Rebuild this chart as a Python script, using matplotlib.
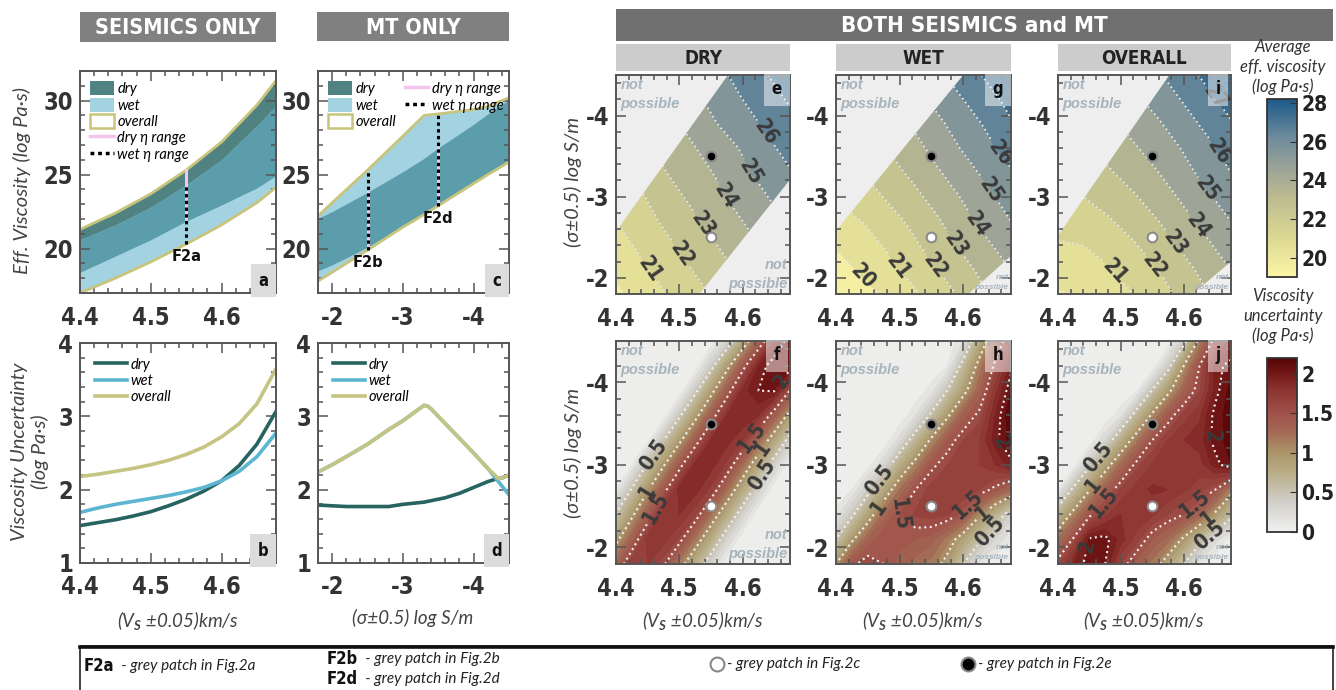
import matplotlib

matplotlib.use("Agg")

import matplotlib.pyplot as plt
import numpy as np
from matplotlib.cm import ScalarMappable
from matplotlib.colors import LinearSegmentedColormap, Normalize
from matplotlib.lines import Line2D
from matplotlib.patches import Patch, Polygon, Rectangle
from matplotlib.ticker import MultipleLocator

W, H = 1336, 690
COND = ["DejaVu Sans"]
ITAL = ["Lato", "DejaVu Sans"]
plt.rcParams["font.family"] = COND
plt.rcParams["font.stretch"] = "condensed"
plt.rcParams["font.weight"] = "bold"
plt.rcParams["axes.unicode_minus"] = False
plt.rcParams["mathtext.fontset"] = "custom"
plt.rcParams["mathtext.it"] = "Lato:italic"
plt.rcParams["mathtext.rm"] = "Lato"
IT = dict(family=ITAL, style="italic", weight="normal", stretch="normal")

# ---- seismics only: viscosity ranges vs Vs (panel a)
vs_a = [4.40, 4.45, 4.50, 4.55, 4.60, 4.65, 4.676]
dry_top_a = [21.3, 22.4, 23.7, 25.3, 27.2, 29.7, 31.3]
dry_bot_a = [18.4, 19.5, 20.6, 21.85, 22.95, 24.1, 24.9]
wet_top_a = [20.6, 21.6, 22.8, 24.3, 26.0, 28.3, 29.6]
wet_bot_a = [17.0, 18.0, 19.1, 20.3, 21.6, 23.1, 24.1]

# ---- MT only: viscosity ranges vs conductivity (panel c)
sig_c = [-1.8, -2.0, -2.5, -3.0, -3.3, -3.5, -4.0, -4.2, -4.5]
wet_top_c = [22.2, 23.1, 25.3, 27.6, 29.0, 29.1, 29.4, 29.6, 30.2]
wet_bot_c = [17.8, 18.4, 19.9, 21.45, 22.3, 22.9, 24.4, 25.0, 25.85]
dry_top_c = [22.05, 22.5, 23.8, 25.2, 26.1, 26.8, 28.4, 29.1, 30.05]
dry_bot_c = [18.5, 18.9, 20.1, 21.5, 22.35, 22.95, 24.4, 25.0, 25.85]

# reference points (grey patches of Fig. 2)
f2a_vs = 4.55
f2b_sig = -2.5
f2d_sig = -3.5
dot_open = (4.55, -2.5)
dot_fill = (4.55, -3.5)

# ---- uncertainty, seismics only (panel b)
vs_b = [4.40, 4.425, 4.45, 4.475, 4.50, 4.525, 4.55, 4.575, 4.60, 4.625, 4.65, 4.676]
unc_dry_b = [1.51, 1.55, 1.59, 1.64, 1.70, 1.78, 1.87, 1.98, 2.12, 2.33, 2.62, 3.05]
unc_wet_b = [1.69, 1.75, 1.80, 1.84, 1.88, 1.92, 1.97, 2.03, 2.12, 2.25, 2.45, 2.76]
unc_all_b = [2.18, 2.21, 2.25, 2.29, 2.34, 2.40, 2.48, 2.58, 2.72, 2.90, 3.17, 3.63]

# ---- uncertainty, MT only (panel d)
sig_d = [-1.8, -2.0, -2.2, -2.5, -2.8, -3.0, -3.2, -3.3, -3.35, -3.4, -3.6, -3.8,
         -4.0, -4.2, -4.3, -4.35, -4.4, -4.5]
unc_all_d = [2.24, 2.34, 2.45, 2.62, 2.82, 2.94, 3.08, 3.15, 3.14, 3.10, 2.90, 2.70,
             2.50, 2.29, 2.20, 2.15, 2.16, 2.20]
unc_wet_d = [2.24, 2.34, 2.45, 2.62, 2.82, 2.94, 3.08, 3.15, 3.14, 3.10, 2.90, 2.70,
             2.50, 2.29, 2.17, 2.11, 2.05, 1.93]
unc_dry_d = [1.79, 1.78, 1.77, 1.77, 1.77, 1.80, 1.82, 1.83, 1.84, 1.85, 1.89, 1.95,
             2.03, 2.11, 2.14, 2.15, 2.16, 2.20]

# ---- joint maps: grids
vs_grid = [4.40, 4.44, 4.48, 4.52, 4.56, 4.60, 4.64, 4.68]
vs_fine = [4.400, 4.425, 4.450, 4.475, 4.500, 4.525, 4.550, 4.575, 4.600, 4.625, 4.650, 4.675]
sig_grid = [-1.8, -2.1, -2.4, -2.7, -3.0, -3.3, -3.6, -3.9, -4.2, -4.5]

# average effective viscosity (rows follow sig_grid, columns vs_grid)
visc_dry = [
    [19.8, 20.4, 21.0, 21.6, 22.2, 22.8, 23.4, 24.1],
    [20.2, 20.8, 21.4, 22.0, 22.6, 23.2, 23.8, 24.5],
    [20.6, 21.2, 21.8, 22.4, 23.0, 23.6, 24.2, 24.8],
    [21.0, 21.6, 22.2, 22.8, 23.4, 24.0, 24.6, 25.2],
    [21.3, 21.9, 22.6, 23.2, 23.8, 24.4, 25.0, 25.6],
    [21.7, 22.3, 23.0, 23.6, 24.1, 24.8, 25.4, 26.0],
    [22.1, 22.7, 23.3, 23.9, 24.5, 25.1, 25.8, 26.4],
    [22.5, 23.1, 23.7, 24.3, 25.0, 25.6, 26.2, 26.8],
    [22.9, 23.5, 24.1, 24.7, 25.4, 26.0, 26.6, 27.2],
    [23.3, 23.9, 24.5, 25.1, 25.7, 26.4, 27.0, 27.6],
]
visc_wet = [
    [19.2, 19.6, 20.2, 20.8, 21.5, 22.2, 23.0, 23.7],
    [19.6, 20.1, 20.7, 21.3, 22.0, 22.7, 23.4, 24.1],
    [20.1, 20.6, 21.1, 21.8, 22.5, 23.2, 23.9, 24.6],
    [20.6, 21.0, 21.6, 22.2, 22.9, 23.7, 24.4, 25.1],
    [21.1, 21.5, 22.1, 22.7, 23.4, 24.1, 24.8, 25.6],
    [21.5, 22.0, 22.6, 23.2, 23.9, 24.6, 25.3, 26.0],
    [22.0, 22.5, 23.0, 23.6, 24.4, 25.1, 25.8, 26.5],
    [22.5, 22.9, 23.5, 24.1, 24.8, 25.5, 26.2, 27.0],
    [22.9, 23.4, 24.0, 24.6, 25.3, 26.0, 26.7, 27.4],
    [23.4, 23.9, 24.4, 25.0, 25.8, 26.5, 27.2, 27.9],
]
visc_all = [
    [19.9, 20.1, 20.5, 21.0, 21.6, 22.3, 23.0, 23.7],
    [20.4, 20.5, 20.9, 21.5, 22.0, 22.7, 23.4, 24.1],
    [20.9, 21.0, 21.4, 21.9, 22.5, 23.2, 23.9, 24.6],
    [21.4, 21.5, 21.9, 22.4, 23.0, 23.7, 24.4, 25.1],
    [21.8, 22.0, 22.4, 22.9, 23.5, 24.2, 24.9, 25.6],
    [22.3, 22.5, 22.9, 23.4, 24.0, 24.7, 25.4, 26.1],
    [22.8, 22.9, 23.3, 23.9, 24.4, 25.1, 25.8, 26.5],
    [23.3, 23.4, 23.8, 24.3, 24.9, 25.6, 26.3, 27.0],
    [23.8, 23.9, 24.3, 24.8, 25.4, 26.1, 26.8, 27.5],
    [24.2, 24.4, 24.8, 25.3, 25.9, 26.6, 27.3, 28.0],
]

# viscosity uncertainty (rows follow sig_grid, columns vs_fine)
unc_dry = [
    [1.30, 1.70, 1.70, 1.54, 1.13, 0.73, 0.32, 0, 0, 0, 0, 0],
    [0.92, 1.33, 1.75, 1.75, 1.58, 1.17, 0.75, 0.33, 0, 0, 0, 0],
    [0.51, 0.94, 1.37, 1.80, 1.80, 1.63, 1.20, 0.77, 0.34, 0, 0, 0],
    [0.09, 0.53, 0.97, 1.41, 1.85, 1.85, 1.67, 1.23, 0.79, 0.35, 0, 0],
    [0, 0.09, 0.53, 0.97, 1.41, 1.85, 1.85, 1.67, 1.23, 0.79, 0.35, 0],
    [0, 0, 0.05, 0.49, 0.93, 1.37, 1.81, 1.85, 1.71, 1.27, 0.83, 0.39],
    [0, 0, 0, 0, 0.45, 0.90, 1.36, 1.81, 1.90, 1.81, 1.36, 0.90],
    [0, 0, 0, 0, 0, 0.42, 0.90, 1.37, 1.85, 2.00, 2.02, 1.49],
    [0, 0, 0, 0, 0, 0, 0.40, 0.90, 1.40, 1.90, 2.10, 2.10],
    [0, 0, 0, 0, 0, 0, 0, 0.30, 0.80, 1.30, 1.80, 2.10],
]
unc_wet = [
    [1.00, 1.45, 1.60, 1.50, 1.35, 1.25, 1.15, 0.90, 0.50, 0.15, 0, 0],
    [0.50, 0.95, 1.30, 1.50, 1.45, 1.40, 1.35, 1.15, 0.85, 0.55, 0.30, 0.10],
    [0.15, 0.45, 0.85, 1.25, 1.50, 1.62, 1.65, 1.62, 1.45, 1.05, 0.70, 0.35],
    [0, 0.10, 0.40, 0.80, 1.20, 1.50, 1.65, 1.70, 1.70, 1.60, 1.45, 1.25],
    [0, 0, 0.05, 0.30, 0.75, 1.10, 1.45, 1.60, 1.65, 1.70, 1.80, 1.95],
    [0, 0, 0, 0, 0.25, 0.65, 1.05, 1.40, 1.60, 1.70, 1.95, 2.15],
    [0, 0, 0, 0, 0, 0.20, 0.55, 0.95, 1.35, 1.55, 1.90, 2.20],
    [0, 0, 0, 0, 0, 0, 0.15, 0.50, 0.90, 1.30, 1.75, 2.10],
    [0, 0, 0, 0, 0, 0, 0, 0.10, 0.60, 1.10, 1.55, 1.95],
    [0, 0, 0, 0, 0, 0, 0, 0, 0.20, 0.75, 1.30, 1.70],
]
unc_all = [
    [1.58, 1.92, 2.05, 2.00, 1.60, 1.35, 1.15, 0.85, 0.50, 0.12, 0, 0],
    [1.20, 1.53, 2.02, 2.05, 1.85, 1.65, 1.40, 1.25, 0.95, 0.60, 0.25, 0.05],
    [0.68, 1.10, 1.45, 1.67, 1.80, 1.80, 1.72, 1.60, 1.50, 1.30, 0.95, 0.60],
    [0.10, 0.57, 0.98, 1.35, 1.62, 1.75, 1.82, 1.80, 1.72, 1.65, 1.50, 1.10],
    [0, 0.02, 0.45, 0.87, 1.25, 1.56, 1.72, 1.80, 1.75, 1.75, 1.95, 2.10],
    [0, 0, 0, 0.30, 0.75, 1.15, 1.50, 1.70, 1.80, 1.85, 2.05, 2.15],
    [0, 0, 0, 0, 0.17, 0.63, 1.05, 1.41, 1.65, 1.78, 2.05, 2.15],
    [0, 0, 0, 0, 0, 0.08, 0.52, 0.93, 1.31, 1.59, 1.95, 2.15],
    [0, 0, 0, 0, 0, 0, 0, 0.40, 1.00, 1.50, 1.95, 2.05],
    [0, 0, 0, 0, 0, 0, 0, 0, 0.40, 1.10, 1.60, 1.85],
]

# combinations that exist (outline of the allowed Vs-conductivity area)
ok_dry_vs = [4.40, 4.40, 4.577, 4.675, 4.675, 4.532]
ok_dry_sig = [-1.8, -2.57, -4.5, -4.5, -3.21, -1.8]
ok_wet_vs = [4.40, 4.40, 4.600, 4.675, 4.675, 4.608]
ok_wet_sig = [-1.8, -2.58, -4.5, -4.5, -2.27, -1.8]
ok_all_vs = [4.40, 4.40, 4.577, 4.675, 4.675, 4.614]
ok_all_sig = [-1.8, -2.52, -4.5, -4.5, -2.2, -1.8]

# colours
DRY_C, WET_C, BOTH_C = "#4f8280", "#a3d3e0", "#5b9dab"
OLIVE, PINK = "#c9c47c", "#f4c4ef"
L_DRY, L_WET, L_ALL = "#276361", "#5db6d1", "#c5c482"
NP_BG, NP_TXT = "#eeeeee", "#a7b4bd"

visc_norm = Normalize(19.0, 28.2)
visc_cmap = LinearSegmentedColormap.from_list(
    "visc", [(0.0, "#fbf6a6"), (0.22, "#dcd893"), (0.44, "#bdbc90"),
             (0.6, "#9ea597"), (0.78, "#6f8c9c"), (1.0, "#1c5a8a")])
unc_norm = Normalize(0.0, 2.2)
unc_cmap = LinearSegmentedColormap.from_list(
    "unc", [(0.0, "#f1f1f1"), (0.18, "#cfcdc6"), (0.34, "#b9ad88"), (0.46, "#ab9468"),
            (0.57, "#a36a55"), (0.68, "#a0524a"), (0.82, "#8b3330"), (0.93, "#6e1414"),
            (1.0, "#560404")])


def px_axes(fig, left, top, right, bottom):
    return fig.add_axes([left / W, 1 - bottom / H, (right - left) / W, (bottom - top) / H])


def style(ax, xmaj, xmin, ymaj, ymin):
    ax.xaxis.set_major_locator(MultipleLocator(xmaj))
    ax.xaxis.set_minor_locator(MultipleLocator(xmin))
    ax.yaxis.set_major_locator(MultipleLocator(ymaj))
    ax.yaxis.set_minor_locator(MultipleLocator(ymin))
    ax.tick_params(which="both", direction="in", top=True, right=True,
                   color="#555555", width=1.1, labelsize=17, labelcolor="#333333")
    ax.tick_params(which="major", length=7)
    ax.tick_params(which="minor", length=3.5)
    ax.tick_params(axis="x", pad=9)
    ax.tick_params(axis="y", pad=5)
    for s in ax.spines.values():
        s.set_color("#555555")
        s.set_linewidth(1.4)


def corner(ax, letter, x, y, fc, alpha=1.0):
    ax.text(x, y, letter, transform=ax.transAxes, ha="center", va="center",
            fontsize=12, color="#111111", zorder=6,
            bbox=dict(boxstyle="square,pad=0.45", fc=fc, ec="none", alpha=alpha))


def not_possible(ax, big_corner=True):
    ax.text(0.025, 0.985, "not\npossible", transform=ax.transAxes, ha="left", va="top",
            color=NP_TXT, fontsize=10.5, family="Liberation Sans", style="italic",
            stretch="normal", linespacing=1.45, zorder=6)
    size = 10.5 if big_corner else 6
    ax.text(0.985, 0.015, "not\npossible", transform=ax.transAxes, ha="right", va="bottom",
            color=NP_TXT, fontsize=size, family="Liberation Sans", style="italic",
            stretch="normal", linespacing=1.45, zorder=6)


def band_panel(ax, x, dtop, dbot, wtop, wbot):
    dtop, dbot, wtop, wbot = map(np.asarray, (dtop, dbot, wtop, wbot))
    ax.fill_between(x, dbot, dtop, color=DRY_C, lw=0)
    ax.fill_between(x, wbot, wtop, color=WET_C, lw=0)
    lo = np.maximum(dbot, wbot)
    hi = np.minimum(dtop, wtop)
    ax.fill_between(x, lo, hi, where=hi > lo, color=BOTH_C, lw=0, interpolate=True)
    ax.plot(x, np.maximum(dtop, wtop), color=OLIVE, lw=2)
    ax.plot(x, np.minimum(dbot, wbot), color=OLIVE, lw=2)


def eta_range(ax, xv, dlo, dhi, wlo, whi, tag):
    ax.plot([xv, xv], [dlo, dhi], color=PINK, lw=2.2, zorder=4)
    ax.plot([xv, xv], [wlo, whi], color="black", lw=2.2, ls=(0, (1.1, 1.1)), zorder=5)
    ax.text(xv, wlo - 0.35, tag, ha="center", va="top", fontsize=10.5,
            family="DejaVu Sans", stretch="normal", color="#111111", zorder=5)


def band_legend(ax, ncol):
    handles = [Patch(fc=DRY_C, ec="none"), Patch(fc=WET_C, ec="none"),
               Patch(fc="white", ec=OLIVE, lw=1.8),
               Line2D([], [], color=PINK, lw=2.5),
               Line2D([], [], color="black", lw=2.5, ls=(0, (1.1, 1.1)))]
    labels = ["dry", "wet", "overall", "dry η range", "wet η range"]
    ax.legend(handles, labels, loc="upper left", ncol=ncol, frameon=False,
              prop=dict(size=10.5, **IT), handlelength=1.6, handleheight=1.1,
              handletextpad=0.25, labelspacing=0.1, borderaxespad=0.3,
              columnspacing=0.6)


def line_legend(ax):
    ax.legend(loc="upper left", frameon=False, prop=dict(size=10.5, **IT),
              handlelength=2.2, handletextpad=0.25, labelspacing=0.15,
              borderaxespad=0.6)


def map_frame(ax):
    ax.set_xlim(4.4, 4.675)
    ax.set_ylim(-1.8, -4.5)
    style(ax, 0.1, 0.02, 1, 0.2)


def set_label_font(txt):
    for t in txt:
        t.set_fontfamily(COND)
        t.set_fontweight("bold")
        t.set_fontstretch("condensed")


def mean_map(ax, z, ok_vs, ok_sig, labels):
    ax.set_facecolor(NP_BG)
    map_frame(ax)
    clip = Polygon(np.column_stack([ok_vs, ok_sig]), closed=True,
                   transform=ax.transData, fc="none", ec="none")
    cf = ax.contourf(vs_grid, sig_grid, z, levels=np.arange(19, 29), cmap=visc_cmap,
                     norm=visc_norm, extend="both")
    cl = ax.contour(vs_grid, sig_grid, z, levels=np.arange(20, 28), colors="#e6e6e6",
                    linewidths=1.3, linestyles=":")
    map_frame(ax)
    txt = ax.clabel(cl, manual=labels, fmt="%d", fontsize=15, inline_spacing=2,
                    colors="#3a3a3a")
    set_label_font(txt)
    cf.set_clip_path(clip)
    cl.set_clip_path(clip)


def unc_map(ax, z, labels):
    ax.set_facecolor(NP_BG)
    map_frame(ax)
    ax.contourf(vs_fine, sig_grid, z, levels=np.linspace(0, 2.2, 23), cmap=unc_cmap,
                norm=unc_norm, extend="max")
    cl = ax.contour(vs_fine, sig_grid, z, levels=[0.5, 1.0, 1.5, 2.0], colors="#f0f0f0",
                    linewidths=1.5, linestyles=":")
    map_frame(ax)
    txt = ax.clabel(cl, manual=labels, fmt=lambda v: f"{v:g}", fontsize=15,
                    inline_spacing=2, colors="#3a3a3a")
    set_label_font(txt)


def dots(ax):
    ax.plot(*dot_fill, "o", ms=7, mfc="black", mec="#8a8a8a", mew=1.5, zorder=7)
    ax.plot(*dot_open, "o", ms=7, mfc="white", mec="#8a8a8a", mew=1.5, zorder=7)


fig = plt.figure(figsize=(W / 100, H / 100), dpi=100)

# panel a
ax_a = px_axes(fig, 80, 71, 276, 293)
band_panel(ax_a, vs_a, dry_top_a, dry_bot_a, wet_top_a, wet_bot_a)
i = vs_a.index(f2a_vs)
eta_range(ax_a, f2a_vs, dry_bot_a[i], dry_top_a[i], wet_bot_a[i], wet_top_a[i], "F2a")
ax_a.set_xlim(4.4, 4.677)
ax_a.set_ylim(17, 32)
style(ax_a, 0.1, 0.02, 5, 1)
band_legend(ax_a, 1)
corner(ax_a, "a", 0.935, 0.055, "#dcdcdc")

# panel c
ax_c = px_axes(fig, 318, 71, 509, 293)
band_panel(ax_c, sig_c, dry_top_c, dry_bot_c, wet_top_c, wet_bot_c)
for s, tag in ((f2b_sig, "F2b"), (f2d_sig, "F2d")):
    i = sig_c.index(s)
    eta_range(ax_c, s, dry_bot_c[i], dry_top_c[i], wet_bot_c[i], wet_top_c[i], tag)
ax_c.set_xlim(-1.8, -4.5)
ax_c.set_ylim(17, 32)
style(ax_c, 1, 0.2, 5, 1)
band_legend(ax_c, 2)
corner(ax_c, "c", 0.935, 0.055, "#dcdcdc")

# panel b
ax_b = px_axes(fig, 80, 343, 276, 563)
ax_b.plot(vs_b, unc_dry_b, color=L_DRY, lw=2.6, label="dry")
ax_b.plot(vs_b, unc_wet_b, color=L_WET, lw=2.6, label="wet")
ax_b.plot(vs_b, unc_all_b, color=L_ALL, lw=2.6, label="overall")
ax_b.set_xlim(4.4, 4.677)
ax_b.set_ylim(1, 4)
style(ax_b, 0.1, 0.02, 1, 0.2)
line_legend(ax_b)
corner(ax_b, "b", 0.935, 0.055, "#dcdcdc")

# panel d
ax_d = px_axes(fig, 318, 343, 509, 563)
ax_d.plot(sig_d, unc_dry_d, color=L_DRY, lw=2.6, label="dry")
ax_d.plot(sig_d, unc_wet_d, color=L_WET, lw=2.6, label="wet")
ax_d.plot(sig_d, unc_all_d, color=L_ALL, lw=2.6, label="overall")
ax_d.set_xlim(-1.8, -4.5)
ax_d.set_ylim(1, 4)
style(ax_d, 1, 0.2, 1, 0.2)
line_legend(ax_d)
corner(ax_d, "d", 0.935, 0.055, "#dcdcdc")

# joint maps, top row: mean viscosity
cols = [(616, 790), (836, 1011), (1058, 1231)]
mean_sets = [
    (visc_dry, ok_dry_vs, ok_dry_sig, "e",
     [(4.454, -2.11), (4.510, -2.32), (4.545, -2.70), (4.582, -3.05), (4.621, -3.34), (4.637, -3.79)]),
    (visc_wet, ok_wet_vs, ok_wet_sig, "g",
     [(4.451, -2.07), (4.509, -2.20), (4.556, -2.15), (4.590, -2.42), (4.619, -2.64), (4.637, -3.05), (4.658, -3.54)]),
    (visc_all, ok_all_vs, ok_all_sig, "i",
     [(4.495, -2.11), (4.553, -2.15), (4.587, -2.44), (4.618, -2.62), (4.637, -3.09), (4.655, -3.56), (4.645, -4.20)]),
]
for k, ((x0, x1), (z, okv, oks, letter, labs)) in enumerate(zip(cols, mean_sets)):
    ax = px_axes(fig, x0, 75, x1, 294)
    mean_map(ax, z, okv, oks, labs)
    dots(ax)
    not_possible(ax, big_corner=(k == 0))
    corner(ax, letter, 0.925, 0.935, "white", alpha=0.5)

unc_sets = [
    (unc_dry, "f", [(4.467, -3.08), (4.454, -2.66), (4.467, -2.46), (4.611, -3.36),
                    (4.632, -3.20), (4.627, -2.90), (4.655, -4.06)]),
    (unc_wet, "h", [(4.461, -2.86), (4.464, -2.50), (4.490, -2.40), (4.658, -3.26),
                    (4.611, -2.50), (4.629, -2.44), (4.643, -2.18)]),
    (unc_all, "j", [(4.463, -3.10), (4.458, -2.74), (4.471, -2.56), (4.445, -2.02),
                    (4.655, -3.34), (4.621, -2.50), (4.637, -2.38), (4.637, -2.18)]),
]
for k, ((x0, x1), (z, letter, labs)) in enumerate(zip(cols, unc_sets)):
    ax = px_axes(fig, x0, 341, x1, 564)
    unc_map(ax, z, labs)
    dots(ax)
    not_possible(ax, big_corner=(k == 0))
    corner(ax, letter, 0.925, 0.935, "white", alpha=0.5)

# colour bars
cax1 = px_axes(fig, 1267, 99, 1297, 277)
cb1 = fig.colorbar(ScalarMappable(visc_norm, visc_cmap), cax=cax1, ticks=[20, 22, 24, 26, 28])
cax2 = px_axes(fig, 1267, 358, 1297, 532)
cb2 = fig.colorbar(ScalarMappable(unc_norm, unc_cmap), cax=cax2, ticks=[0, 0.5, 1, 1.5, 2])
cb2.ax.set_yticklabels(["0", "0.5", "1", "1.5", "2"])
for cb in (cb1, cb2):
    cb.outline.set_edgecolor("#333333")
    cb.outline.set_linewidth(1.3)
    cb.ax.tick_params(labelsize=15, direction="in", length=5, color="#333333",
                      labelcolor="#222222", pad=3)

# overlay for headers, axis titles and the key
lax = fig.add_axes([0, 0, 1, 1], facecolor="none")
lax.set_xlim(0, W)
lax.set_ylim(H, 0)
lax.axis("off")


def header(x0, y0, x1, y1, text, fc, tc, size):
    lax.add_patch(Rectangle((x0, y0), x1 - x0, y1 - y0, fc=fc, ec="none"))
    lax.text((x0 + x1) / 2, (y0 + y1) / 2 + 1, text, ha="center", va="center",
             color=tc, fontsize=size)


header(80, 12, 276, 42, "SEISMICS ONLY", "#808080", "white", 15.5)
header(317, 12, 509, 41, "MT ONLY", "#808080", "white", 15.5)
header(616, 9, 1333, 41, "BOTH SEISMICS and MT", "#707070", "white", 16)
for (x0, x1), name in zip(cols, ["DRY", "WET", "OVERALL"]):
    header(x0, 44, x1, 71, name, "#cccccc", "#222222", 13.5)

ylab = dict(rotation=90, ha="center", va="center", color="#444444", fontsize=14.5, **IT)
lax.text(22, 180, "Eff. Viscosity (log Pa·s)", **ylab)
lax.text(30, 452, "Viscosity Uncertainty\n(log Pa·s)", linespacing=1.25, **ylab)
lax.text(573, 182, "(σ±0.5) log S/m", **ylab)
lax.text(573, 453, "(σ±0.5) log S/m", **ylab)
xlab = dict(ha="center", va="center", color="#444444", fontsize=13.5, **IT)
for xc in (178, 703, 923, 1144):
    lax.text(xc, 621, r"(V$_S$ ±0.05)km/s", **xlab)
lax.text(413, 618, "(σ±0.5) log S/m", **xlab)

cbt = dict(ha="center", va="center", color="#333333", fontsize=12, linespacing=1.3, **IT)
lax.text(1283, 67, "Average\neff. viscosity\n(log Pa·s)", **cbt)
lax.text(1283, 316, "Viscosity\nuncertainty\n(log Pa·s)", **cbt)

# key box at the bottom
lax.add_patch(Rectangle((80, 646), 1253, 60, fill=False, ec="#222222", lw=1.2))
lax.plot([80, 1333], [646.5, 646.5], color="#111111", lw=2.6)
key_it = dict(va="center", ha="left", color="#222222", fontsize=11, **IT)
for x, y, tag, note in ((84, 666, "F2a", "Fig.2a"), (327, 659, "F2b", "Fig.2b"),
                        (327, 679, "F2d", "Fig.2d")):
    t = lax.text(x, y, tag, va="center", ha="left", fontsize=12, color="#111111")
    lax.annotate("  - grey patch in " + note, xy=(1, 0.5), xycoords=t, **key_it)
lax.plot(717, 664, "o", ms=10, mfc="white", mec="#888888", mew=1.5)
lax.text(727, 664, "- grey patch in Fig.2c", **key_it)
lax.plot(968, 664, "o", ms=10, mfc="black", mec="#888888", mew=1.5)
lax.text(978, 664, "- grey patch in Fig.2e", **key_it)

fig.savefig("out.png", dpi=100)
plt.close(fig)
